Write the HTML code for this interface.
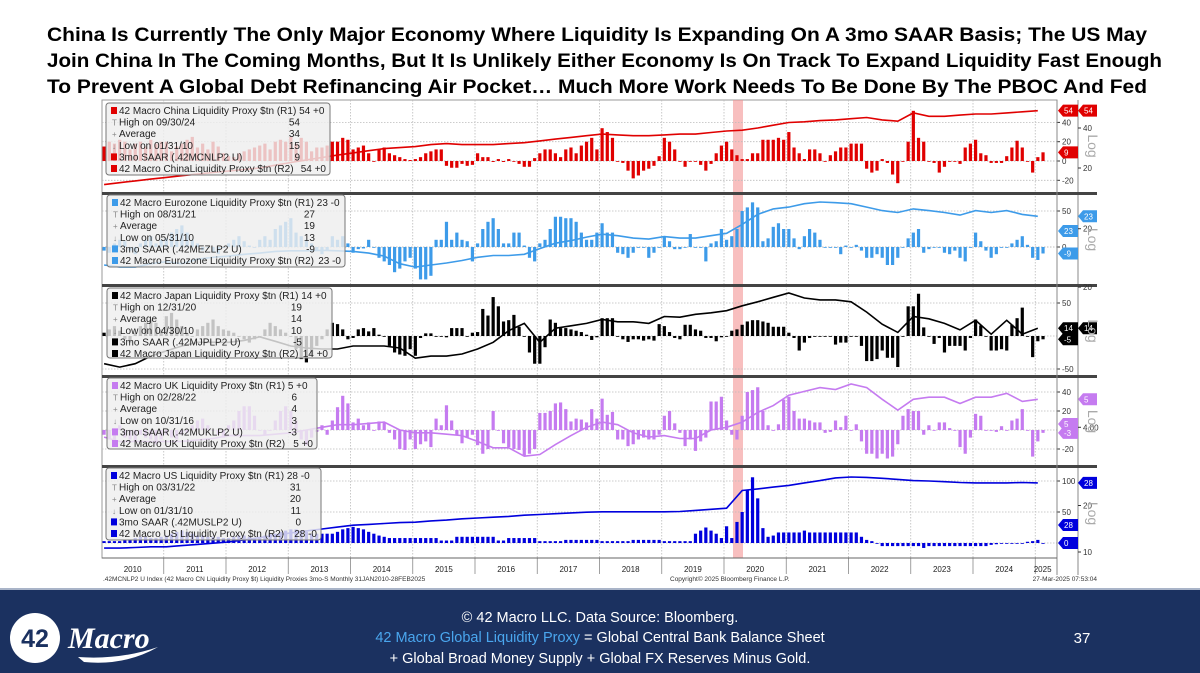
<!DOCTYPE html>
<html><head><meta charset="utf-8">
<style>
html,body{margin:0;padding:0;background:#fff;}
svg{display:block;font-family:"Liberation Sans",sans-serif;}
</style></head>
<body>
<svg id="page" width="1200" height="673" viewBox="0 0 1200 673" xmlns="http://www.w3.org/2000/svg">
<rect x="0" y="0" width="1200" height="673" fill="#fff"/>
<g font-weight="bold" font-size="19.5" fill="#000">
<text x="47" y="41" textLength="1100" lengthAdjust="spacingAndGlyphs">China Is Currently The Only Major Economy Where Liquidity Is Expanding On A 3mo SAAR Basis; The US May</text>
<text x="47" y="67" textLength="1115" lengthAdjust="spacingAndGlyphs">Join China In The Coming Months, But It Is Unlikely Either Economy Is On Track To Expand Liquidity Fast Enough</text>
<text x="47" y="93" textLength="1100" lengthAdjust="spacingAndGlyphs">To Prevent A Global Debt Refinancing Air Pocket… Much More Work Needs To Be Done By The PBOC And Fed</text>
</g>
<g id="chart"></g>
<g>
<rect x="0" y="588" width="1200" height="2" fill="#a9b4c8"/>
<rect x="0" y="590" width="1200" height="83" fill="#1b3160"/>
<circle cx="35" cy="638" r="25" fill="#fff"/>
<text x="35" y="647" text-anchor="middle" font-size="25" font-weight="bold" fill="#1b3160">42</text>
<text x="68" y="648" font-family="Liberation Serif,serif" font-style="italic" font-weight="bold" font-size="30" fill="#fff">Macro</text>
<path d="M78 657 Q120 660 158 647 Q125 666 84 662 Z" fill="#fff"/>
<g font-size="14.5" fill="#fff" text-anchor="middle">
<text x="600" y="622">© 42 Macro LLC. Data Source: Bloomberg.</text>
<text x="600" y="642"><tspan fill="#4aa6ee">42 Macro Global Liquidity Proxy</tspan> = Global Central Bank Balance Sheet</text>
<text x="600" y="663">+ Global Broad Money Supply + Global FX Reserves Minus Gold.</text>
</g>
<text x="1082" y="643" font-size="15" fill="#fff" text-anchor="middle">37</text>
</g>
</svg>
<script>
// ---- data (monthly Jan-2010 .. Feb-2025 bars; quarterly lines Jan-2010 .. Jan-2025)
const years = ['2010','2011','2012','2013','2014','2015','2016','2017','2018','2019','2020','2021','2022','2023','2024','2025'];
const chinaBars = [15,20,18,22,20,12,18,20,15,22,18,20, 20,10,15,18,22,25,14,18,12,20,15,8, 5,4,8,10,12,14,16,18,12,20,22,20, 25,18,24,20,10,14,14,16,20,20,24,22, 12,14,16,8,0,12,14,8,6,4,2,1, 2,4,8,10,12,12,-5,-7,-7,-3,-5,-4, 8,4,4,-1,2,-1,2,0,-3,-6,-6,3, 8,12,12,8,4,12,14,8,16,20,24,12, 34,30,24,0,-2,-10,-18,-15,-10,-8,-5,5, 24,20,12,0,-6,0,0,-4,-10,-3,8,16, 20,12,6,2,2,8,8,22,22,22,24,22, 30,14,8,2,12,12,8,0,6,10,14,14, 18,18,18,-8,-12,-10,2,-2,-14,-23,0,20, 52,24,20,0,-2,-12,-6,0,0,-3,14,18, 22,8,6,-2,-2,-2,5,14,21,14,0,-12, 4,9];
const chinaLine = [15,15.5,16,16.5, 17,17.5,18,18.5, 19,19.5,20,21, 22,23,24,25, 26,27,28,28.5, 29,30,30.5,30, 30,30,30.5,31, 32,33,34,35, 36,35.5,35,35, 35.5,36,36,37, 38,38.5,40,42, 44,44.5,45.5,46, 47,48,46,45, 52,49,49,50, 51,51,52,53, 54];
const euroBars = [-5,-8,5,10,8,-5,-10,5,10,15,5,10, 12,20,25,30,20,10,5,-5,0,-8,-10,0, 5,10,15,8,2,0,10,15,10,25,30,35, 40,20,15,10,5,-5,-10,-5,15,10,15,5, -8,-3,-2,10,0,-15,-20,-25,-35,-30,-20,-15, -30,-45,-45,-40,10,10,35,10,20,10,8,-20, 5,25,35,40,25,5,5,20,20,2,-15,-20, 5,10,25,42,42,40,40,35,20,10,10,20, 33,20,20,-8,-10,-15,-8,0,0,-15,-8,0, 15,8,-3,-3,0,18,0,0,-20,5,8,25, 10,15,25,50,55,62,55,8,12,28,33,25, 25,12,-3,15,25,20,10,0,0,0,-10,2, 0,3,-5,-15,-15,-10,-15,-25,-25,-15,0,12, 20,25,-8,-3,0,0,-8,-10,-5,-15,-20,0, 20,8,-5,-15,-10,0,0,5,10,15,3,-15, -18,-9];
const euroLine = [13.3,13,13,13.5, 13.8,13.5,14.2,14.5, 14.7,15,15.2,15.5, 15.6,15.6,15.7,15.6, 15.5,15.2,14.7,13.5, 13,13.3,13.6,14, 14.5,14.8,14.8,15, 16,17,17.5,18.2, 18.8,18.5,18,17.8, 18.3,18,18,18.5, 19,21,23.5,25, 25.5,26.5,27,26.8, 26.5,25.5,24.5,24, 25,24.5,24,23.3, 24.5,24,24.5,23.5, 23];
const japanBars = [5,10,15,8,-5,-10,5,15,20,25,20,10, 30,35,25,15,5,0,10,15,20,25,15,10, 8,5,0,-5,-10,-5,0,10,20,15,10,5, 0,-20,-35,-40,-30,-15,-5,10,20,18,10,-5, -3,10,12,7,12,2,0,-15,-25,-28,-30,-20, -30,-3,4,4,0,0,-2,12,12,12,0,5, 6,41,31,59,45,22,24,32,14,0,-25,-42, -42,-17,25,20,12,12,10,8,6,2,-6,-2, 27,27,27,0,-5,-9,-5,-5,-7,-5,-7,18, 15,6,-3,-5,17,17,10,8,-3,-3,-8,-2, 0,8,10,17,22,24,24,22,20,14,14,14, 5,-3,-22,-10,-3,0,0,0,0,-13,-10,-10, 0,0,-15,-38,-38,-35,-22,-33,-33,-47,0,45, 45,64,13,0,-12,-3,-25,-15,-15,-15,-22,-3, 25,16,0,-22,-22,-20,-22,17,27,43,0,-32, -8,-5];
const japanLine = [10.3,10,10.3,11, 11.5,12,12.4,12.4, 12.4,12.6,13,12.5, 12,11.8,11.7,11.7, 12,12,12,11.8, 10.8,11,11,11.2, 11.7,12.4,13.7,14.6, 12.4,14,14.3,14.6, 15.1,14.8,14.8,14.6, 15.5,15.4,15.8,16, 16.3,17,17.6,18.3, 19,18.2,17.9,17.9, 17.6,16.1,14.5,13.5, 15.5,15.2,14.6,13.8, 15,13.3,15,13.3, 14];
const ukBars = [-5,-10,-12,5,-8,-10,-12,-5,-8,-10,-15,-10, -5,-8,-10,-5,-3,5,10,12,5,0,-5,-8, 5,10,20,25,25,15,0,-5,0,10,20,25, 20,10,-10,-16,-8,-2,5,-5,10,24,36,28, 8,12,5,8,0,9,8,-3,-10,-20,-21,-10, -20,-15,-12,-18,12,5,26,10,-5,-14,-8,-5, -16,-25,-20,20,0,-14,-18,-20,-21,-27,-25,-20, 18,18,20,28,29,22,9,12,11,8,22,12, 33,16,19,-10,-10,-17,-15,-10,-8,-10,-10,-5, 15,20,7,-3,-17,-10,-22,-12,-8,30,30,35, 10,-5,-10,15,40,42,45,20,5,0,6,32, 35,20,12,12,10,8,8,-3,-2,10,3,15, 0,6,-12,-25,-25,-30,-25,-30,-28,-15,15,22, 20,20,-5,5,0,8,8,2,0,-18,-25,-8, 17,15,0,0,-2,4,0,10,12,22,0,-28, -12,-3];
const ukLine = [3.65,3.5,3.5,3.5, 3.5,3.5,3.55,3.6, 3.7,3.7,3.7,3.75, 3.8,3.9,4.0,4.1, 4.1,4.15,4.2,3.9, 3.8,3.8,3.75,3.7, 3.5,3.3,3.3,3.05, 3.1,3.4,3.7,4.0, 4.2,4.1,3.8,3.65, 3.7,3.6,3.6,3.9, 4.0,4.2,4.6,4.9, 5.4,5.6,5.8,5.7, 6.0,5.8,5.2,4.7, 5.2,5.3,5.3,5.0, 5.3,5.3,5.5,5.1, 5.2];
const usBars = [3,3,3,3,5,5,8,10,10,8,8,10, 12,15,18,20,18,15,12,12,10,10,10,8, 8,10,12,12,10,8,10,12,15,15,18,20, 22,22,20,18,15,15,15,15,15,18,22,24, 26,24,22,18,15,12,10,8,8,8,8,8, 8,8,8,8,8,4,4,4,10,10,10,10, 10,10,10,10,4,4,8,8,8,8,8,8, 3,3,3,3,3,5,5,5,5,5,5,5, 3,3,3,3,3,3,5,5,5,5,5,5, 3,3,3,3,3,3,15,20,25,20,15,8, 27,8,34,50,85,106,72,24,10,12,17,17, 17,17,17,20,17,17,17,17,17,17,17,17, 17,17,10,5,3,0,-5,-5,-5,-5,-5,-5, -5,-5,-8,-5,-5,-5,-5,-5,-5,-5,-5,-5, -5,-5,-5,-3,-2,0,0,0,0,0,2,3, 5,0];
const usLine = [10.6,10.6,10.7,10.8, 10.8,11,11.2,11.4, 11.6,12,12.4,12.8, 13.3,13.7,14.1,14.5, 14.9,15.1,15.3,15.5, 15.6,15.9,16.1,16.4, 16.6,16.8,17,17.3, 17.5,17.7,17.9,18.1, 18.2,18.2,18.2,18.2, 18.2,18.3,18.6,18.9, 19.2,25,25.6,26.3, 27,28,29,30.2, 30.6,30.4,30,29.5, 29,28.8,28.5,28.2, 28,28,28,28.2, 28];
const chinaTicks = ['40','20','0','-20'];
const euroTicks = ['50','0'];
const japanTicks = ['50','-50'];
const ukTicks = ['40','20','-20'];
const usTicks = ['100','50'];

const NS='http://www.w3.org/2000/svg';
const root=document.getElementById('chart');
function mk(tag,attrs,parent){const e=document.createElementNS(NS,tag);for(const k in attrs)e.setAttribute(k,attrs[k]);(parent||root).appendChild(e);return e;}
const X0=101.5, PX_YEAR=62.25, PL=102, PR=1057, OUT=1078;
function xM(m){return X0+(m+0.5)*PX_YEAR/12;}

let fr=mk('rect',{x:PL,y:100,width:PR-PL,height:458,fill:'none',stroke:'#999','stroke-width':1});


let ax2=mk('line',{x1:OUT,y1:100,x2:OUT,y2:575,stroke:'#888','stroke-width':1});



for(let i=0;i<years.length;i++){
  const xs=X0+i*PX_YEAR;
  if(i>0){
    const g=mk('line',{x1:xs,y1:100,x2:xs,y2:558,stroke:'#bbb','stroke-width':0.8,'stroke-dasharray':'1.5,1.5'});
    
    
    const t=mk('line',{x1:xs,y1:558,x2:xs,y2:574,stroke:'#888','stroke-width':0.8});
    
    
  }
  const xe=Math.min(X0+(i+1)*PX_YEAR,1050);
  const lbl=mk('text',{x:(xs+xe)/2,y:572,'font-size':8,'text-anchor':'middle',fill:'#222'});
  lbl.textContent=years[i];
  
  
}
const sh=mk('rect',{x:733,y:100,width:10,height:458,fill:'#f28a8a',opacity:0.55});



const panels=[
 {key:'china',top:100,bot:192,zero:161,k:0.965,ref:128,vref:40,ppd:40,col:'#e00000',bars:chinaBars,line:chinaLine,ticks:chinaTicks,
  title:'42 Macro China Liquidity Proxy $tn (R1) 54 +0',rows:[['High on 09/30/24','54'],['Average','34'],['Low on 01/31/10','15'],['3mo SAAR (.42MCNLP2 U)','9'],['42 Macro ChinaLiquidity Proxy $tn (R2)','54 +0']],
  box:[106,103,224,72],outer:[['40',40],['20',20]],tags:[[0,'54'],[1,'54',1],[0,'9','bar']]},
 {key:'eurozone',top:195,bot:284,zero:247,k:0.72,ref:202,vref:27,ppd:61.7,col:'#3d9be9',bars:euroBars,line:euroLine,ticks:euroTicks,
  title:'42 Macro Eurozone Liquidity Proxy $tn (R1) 23 -0',rows:[['High on 08/31/21','27'],['Average','19'],['Low on 05/31/10','13'],['3mo SAAR (.42MEZLP2 U)','-9'],['42 Macro Eurozone Liquidity Proxy $tn (R2)','23 -0']],
  box:[107,195,238,72],outer:[['20',20]],tags:[[1,'23',1],[0,'23',null,231],[0,'-9','bar']]},
 {key:'japan',top:287,bot:375,zero:336,k:0.66,ref:293,vref:19,ppd:80,col:'#000',bars:japanBars,line:japanLine,ticks:japanTicks,
  title:'42 Macro Japan Liquidity Proxy $tn (R1) 14 +0',rows:[['High on 12/31/20','19'],['Average','14'],['Low on 04/30/10','10'],['3mo SAAR (.42MJPLP2 U)','-5'],['42 Macro Japan Liquidity Proxy $tn (R2)','14 +0']],
  box:[107,288,225,70],outer:[['20',20]],tags:[[0,'14'],[1,'14',1],[0,'-5','bar']]},
 {key:'uk',top:378,bot:465,zero:430,k:0.95,ref:384,vref:6,ppd:74,col:'#c57bf0',bars:ukBars,line:ukLine,ticks:ukTicks,
  title:'42 Macro UK Liquidity Proxy $tn (R1) 5   +0',rows:[['High on 02/28/22','6'],['Average','4'],['Low on 10/31/16','3'],['3mo SAAR (.42MUKLP2 U)','-3'],['42 Macro UK Liquidity Proxy $tn (R2)','5 +0']],
  box:[107,378,210,71],outer:[['4.00',4]],tags:[[1,'5',1],[0,'5',null,424],[0,'-3','bar']]},
 {key:'us',top:469,bot:558,zero:543,k:0.62,ref:552,vref:10,ppd:46.5,col:'#0000dd',bars:usBars,line:usLine,ticks:usTicks,
  title:'42 Macro US Liquidity Proxy $tn (R1) 28 -0',rows:[['High on 03/31/22','31'],['Average','20'],['Low on 01/31/10','11'],['3mo SAAR (.42MUSLP2 U)','0'],['42 Macro US Liquidity Proxy $tn (R2)','28 -0']],
  box:[106,468,215,72],outer:[['20',20],['10',10]],tags:[[1,'28',1],[0,'28',null,525],[0,'0','bar']]}
];

panels.forEach((p,pi)=>{
  const g=mk('g',{});
  
  
  const yBar=v=>p.zero-v*p.k;
  const yLog=v=>p.ref+p.ppd*Math.log2(p.vref/v);
  p.ticks.forEach(t=>{
    const y=yBar(parseFloat(t));
    const gl=mk('line',{x1:PL,y1:y,x2:PR,y2:y,stroke:'#bbb','stroke-width':0.8,'stroke-dasharray':'1.5,1.5'},g);
    
    
    const tk=mk('line',{x1:PR,y1:y,x2:PR+3,y2:y,stroke:'#333'},g);
    
    
    const tl=mk('text',{x:PR+5,y:y+3,'font-size':8,fill:'#333'},g);
    tl.textContent=t;
    
    
  });
  const zl=mk('line',{x1:PL,y1:p.zero,x2:PR,y2:p.zero,stroke:'#bbb','stroke-width':0.8,'stroke-dasharray':'1.5,1.5'},g);
  
  
  p.outer.forEach(o=>{
    const y=yLog(o[1]);
    const tk=mk('line',{x1:OUT,y1:y,x2:OUT+3,y2:y,stroke:'#333'},g);
    
    
    const tl=mk('text',{x:OUT+5,y:y+3,'font-size':8,fill:'#333'},g);
    tl.textContent=o[0];
    
    
  });
  p.bars.forEach((v,m)=>{
    const y=yBar(v);
    const b=mk('rect',{x:xM(m)-1.6,y:Math.min(y,p.zero),width:3.2,height:Math.max(Math.abs(p.zero-y),0.8),fill:p.col},g);
    
    
  });
  const pts=p.line.map((v,i)=>xM(i*3).toFixed(1)+','+yLog(v).toFixed(1)).join(' ');
  const pl=mk('polyline',{points:pts,fill:'none',stroke:p.col,'stroke-width':1.6},g);
  
  
  p.tags.forEach(t=>{
    let y;
    if(t[2]==='bar') y=yBar(parseFloat(p.bars[p.bars.length-1]));
    else if(t[3]) y=t[3];
    else y=yLog(p.line[p.line.length-1]);
    const x0=t[0]?OUT:PR+1, w=t[0]?19:20;
    const tg=mk('path',{d:`M${x0} ${y} L${x0+5} ${y-6} L${x0+w} ${y-6} L${x0+w} ${y+6} L${x0+5} ${y+6} Z`,fill:p.col},g);
    
    
    const tt=mk('text',{x:x0+6,y:y+3,'font-size':8,fill:'#fff'},g);
    tt.textContent=t[1];
    
    
  });
  const cy=(p.top+p.bot)/2;
  const lg=mk('text',{x:1088,y:cy,'font-size':14,fill:'#aaa','text-anchor':'middle',transform:`rotate(90 1088 ${cy})`},g);
  lg.textContent='Log';
  
  
  const lgG=mk('g',{},g);
  
  
  const [bx,by,bw,bh]=p.box;
  const br=mk('rect',{x:bx,y:by,width:bw,height:bh,rx:3,fill:'#eeeeee','fill-opacity':0.82,stroke:'#777','stroke-width':1},lgG);
  
  
  const all=[[p.title,'']].concat(p.rows);
  const rightX=bx+bw-(p.key==='uk'||p.key==='us'?20:30);
  all.forEach((r,i)=>{
    const y=by+11+i*11.6;
    if(i===0||i===4||i===5){
      const sq=mk('rect',{x:bx+5,y:y-7,width:6,height:7,fill:p.col},lgG);
      
      
    } else {
      const mk2=mk('text',{x:bx+6,y:y,'font-size':8,fill:'#888'},lgG);
      mk2.textContent=i===1?'T':(i===2?'+':'↓');
      
      
    }
    const tx=mk('text',{x:bx+13,y:y,'font-size':10,fill:'#222'},lgG);
    tx.textContent=r[0];
    
    
    if(r[1]){
      const vx=mk('text',{x:i===5?bx+bw-4:rightX,y:y,'font-size':10,fill:'#222','text-anchor':'end'},lgG);
      vx.textContent=r[1];
      
      
    }
  });
  if(pi<4){
    const sp=mk('rect',{x:PL,y:p.bot,width:995,height:3,fill:'#444'});
    
    
  }
});
const ax1=mk('line',{x1:PR,y1:100,x2:PR,y2:575,stroke:'#888','stroke-width':1});


const bl=mk('line',{x1:PL,y1:558,x2:PR,y2:558,stroke:'#666','stroke-width':1});


const f1=mk('text',{x:103,y:581,'font-size':6.5,fill:'#333'});
f1.textContent='.42MCNLP2 U Index (42 Macro CN Liquidity Proxy $t) Liquidity Proxies 3mo-S  Monthly 31JAN2010-28FEB2025';


const f2=mk('text',{x:670,y:581,'font-size':6.5,fill:'#333'});
f2.textContent='Copyright© 2025 Bloomberg Finance L.P.';


const f3=mk('text',{x:1097,y:581,'font-size':6.5,fill:'#333','text-anchor':'end'});
f3.textContent='27-Mar-2025 07:53:04';


</script>
</body></html>
